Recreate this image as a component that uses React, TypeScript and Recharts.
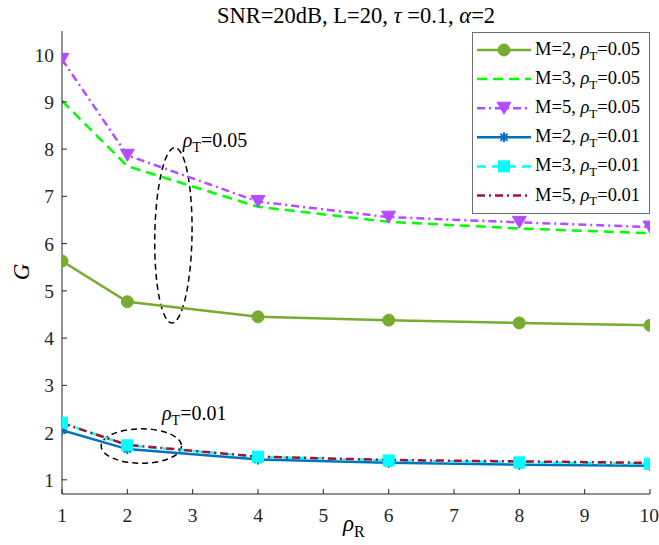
import React from 'react';
import { LineChart, Line, XAxis, YAxis, Legend, ReferenceArea, ReferenceDot } from 'recharts';

const rhoR = [1, 2, 4, 6, 8, 10];
const m2_005 = [5.63, 4.77, 4.45, 4.38, 4.32, 4.27];
const m3_005 = [9.02, 7.64, 6.78, 6.46, 6.32, 6.22];
const m5_005 = [9.9, 7.87, 6.89, 6.56, 6.45, 6.35];
const m2_001 = [2.05, 1.65, 1.43, 1.36, 1.32, 1.3];
const m3_001 = [2.21, 1.73, 1.49, 1.41, 1.37, 1.34];
const m5_001 = [2.2, 1.74, 1.49, 1.42, 1.39, 1.36];

const xTicks = [1, 2, 3, 4, 5, 6, 7, 8, 9, 10];
const yTicks = [1, 2, 3, 4, 5, 6, 7, 8, 9, 10];

const seriesLabels = [
  { m: 'M=2', rho: '0.05' },
  { m: 'M=3', rho: '0.05' },
  { m: 'M=5', rho: '0.05' },
  { m: 'M=2', rho: '0.01' },
  { m: 'M=3', rho: '0.01' },
  { m: 'M=5', rho: '0.01' },
];

const series = [
  { key: 's1', values: m2_005, color: '#77ac30', dash: undefined, marker: 'circle' },
  { key: 's2', values: m3_005, color: '#00ff00', dash: '10 6', marker: 'none' },
  { key: 's3', values: m5_005, color: '#b44dff', dash: '8 4 2 4', marker: 'triangle' },
  { key: 's4', values: m2_001, color: '#0072bd', dash: undefined, marker: 'asterisk' },
  { key: 's5', values: m3_001, color: '#00ffff', dash: '9 6', marker: 'square' },
  { key: 's6', values: m5_001, color: '#a2142f', dash: '8 4 2 4', marker: 'none' },
];

const data = rhoR.map((x, i) => {
  const row: any = { x };
  series.forEach((s) => (row[s.key] = s.values[i]));
  return row;
});

const FONT = 'Liberation Serif, Times New Roman, serif';
const AXC = '#262626';

function Marker({ type, cx, cy, color }: { type: string; cx: number; cy: number; color: string }) {
  if (type === 'circle') return <circle cx={cx} cy={cy} r={6} fill={color} stroke={color} />;
  if (type === 'triangle')
    return (
      <polygon
        points={`${cx - 7},${cy - 6} ${cx + 7},${cy - 6} ${cx},${cy + 6}`}
        fill={color}
        stroke={color}
      />
    );
  if (type === 'square')
    return <rect x={cx - 5.5} y={cy - 5.5} width={11} height={11} fill={color} stroke={color} />;
  if (type === 'asterisk') {
    const r = 5;
    const d = r * 0.707;
    return (
      <g stroke={color} strokeWidth={2}>
        <line x1={cx} y1={cy - r} x2={cx} y2={cy + r} />
        <line x1={cx - r} y1={cy} x2={cx + r} y2={cy} />
        <line x1={cx - d} y1={cy - d} x2={cx + d} y2={cy + d} />
        <line x1={cx - d} y1={cy + d} x2={cx + d} y2={cy - d} />
      </g>
    );
  }
  return null;
}

const txtStyle = { fontFamily: FONT };

function LegendContent(props: any) {
  const payload = props.payload || [];
  const rowH = 29.1;
  return (
    <svg width={178} height={182} style={{ display: 'block' }}>
      <rect x={0.5} y={0.5} width={177} height={181} fill="#fff" stroke="#6e6e6e" strokeWidth={1} />
      {payload.map((entry: any, i: number) => {
        const idx = series.findIndex((s) => s.key === entry.dataKey);
        const s = series[idx];
        const lab = seriesLabels[idx];
        const cy = 18 + i * rowH;
        return (
          <g key={entry.dataKey}>
            <line x1={5} y1={cy} x2={59} y2={cy} stroke={s.color} strokeWidth={2.5} strokeDasharray={s.dash} />
            <Marker type={s.marker} cx={32} cy={cy} color={s.color} />
            <text x={63} y={cy + 5} style={txtStyle} fontSize={18.5} fill="#000">
              {lab.m + ', '}
              <tspan fontStyle="italic">ρ</tspan>
              <tspan fontSize={13} dy={4.5}>T</tspan>
              <tspan dy={-4.5}>{'=' + lab.rho}</tspan>
            </text>
          </g>
        );
      })}
    </svg>
  );
}

const ellipseShape = (rot: number) => (p: any) => {
  const cx = p.x + p.width / 2;
  const cy = p.y + p.height / 2;
  return (
    <ellipse
      cx={cx}
      cy={cy}
      rx={Math.abs(p.width) / 2}
      ry={Math.abs(p.height) / 2}
      fill="none"
      stroke="#000"
      strokeWidth={1.5}
      strokeDasharray="6 4"
      transform={`rotate(${rot} ${cx} ${cy})`}
    />
  );
};

const annoText = (val: string) => (p: any) => (
  <text x={p.cx} y={p.cy} style={txtStyle} fontSize={20} fill="#000">
    <tspan fontStyle="italic">ρ</tspan>
    <tspan fontSize={14} dy={5}>T</tspan>
    <tspan dy={-5}>{'=' + val}</tspan>
  </text>
);

const tickStyle = { fill: AXC, fontSize: 19.5, fontFamily: FONT, style: txtStyle };

export default function App() {
  return (
    <div style={{ position: 'absolute', left: 0, top: 0, width: 659, height: 545, background: '#fff', fontFamily: FONT }}>
      <LineChart width={659} height={545} data={data} margin={{ top: 31, right: 9, left: 22, bottom: 21 }}>
        <XAxis
          dataKey="x"
          type="number"
          domain={[1, 10]}
          ticks={xTicks}
          allowDataOverflow
          height={30}
          tickSize={-5}
          tickMargin={19}
          stroke={AXC}
          tick={tickStyle}
        />
        <XAxis
          xAxisId="top"
          orientation="top"
          type="number"
          domain={[1, 10]}
          ticks={xTicks}
          allowDataOverflow
          height={0}
          tickSize={-5}
          tickFormatter={() => ''}
          stroke={AXC}
        />
        <YAxis
          type="number"
          domain={[0.7, 10.5]}
          ticks={yTicks}
          allowDataOverflow
          width={40}
          tickSize={-5}
          tickMargin={13}
          stroke={AXC}
          tick={tickStyle}
        />
        <YAxis
          yAxisId="right"
          orientation="right"
          type="number"
          domain={[0.7, 10.5]}
          ticks={yTicks}
          allowDataOverflow
          width={0}
          tickSize={-5}
          tickFormatter={() => ''}
          stroke={AXC}
        />
        <ReferenceArea x1={2.42} x2={2.99} y1={4.32} y2={8.03} shape={ellipseShape(1)} ifOverflow="visible" />
        <ReferenceArea x1={1.6} x2={2.83} y1={1.35} y2={2.08} shape={ellipseShape(0)} ifOverflow="visible" />
        <ReferenceDot x={2.85} y={8.04} r={0} shape={annoText('0.05')} ifOverflow="visible" />
        <ReferenceDot x={2.53} y={2.26} r={0} shape={annoText('0.01')} ifOverflow="visible" />
        {series.map((s) => (
          <Line
            key={s.key}
            dataKey={s.key}
            type="linear"
            stroke={s.color}
            strokeWidth={2.5}
            strokeDasharray={s.dash}
            isAnimationActive={false}
            activeDot={false}
            dot={(p: any) => (
              <g key={`${s.key}-${p.index}`}>
                <Marker type={s.marker} cx={p.cx} cy={p.cy} color={s.color} />
              </g>
            )}
          />
        ))}
        <Legend
          layout="vertical"
          align="center"
          verticalAlign="middle"
          wrapperStyle={{ left: 472, top: 32, width: 178, height: 182 }}
          content={LegendContent}
        />
      </LineChart>
      <svg
        width={659}
        height={545}
        style={{ position: 'absolute', left: 0, top: 0, pointerEvents: 'none', fontFamily: FONT }}
      >
        <text x={356} y={23} textAnchor="middle" style={txtStyle} fontSize={22.5} fill="#000">
          {'SNR=20dB, L=20, '}
          <tspan fontStyle="italic">τ</tspan>
          {' =0.1, '}
          <tspan fontStyle="italic">α</tspan>
          {'=2'}
        </text>
        <text x={343} y={531} style={txtStyle} fontSize={23} fill="#000">
          <tspan fontStyle="italic">ρ</tspan>
          <tspan fontSize={16} dy={6}>R</tspan>
        </text>
        <text
          x={0}
          y={0}
          transform="translate(29 272) rotate(-90)"
          textAnchor="middle"
          style={txtStyle}
          fontStyle="italic"
          fontSize={23}
          fill="#000"
        >
          G
        </text>
      </svg>
    </div>
  );
}
